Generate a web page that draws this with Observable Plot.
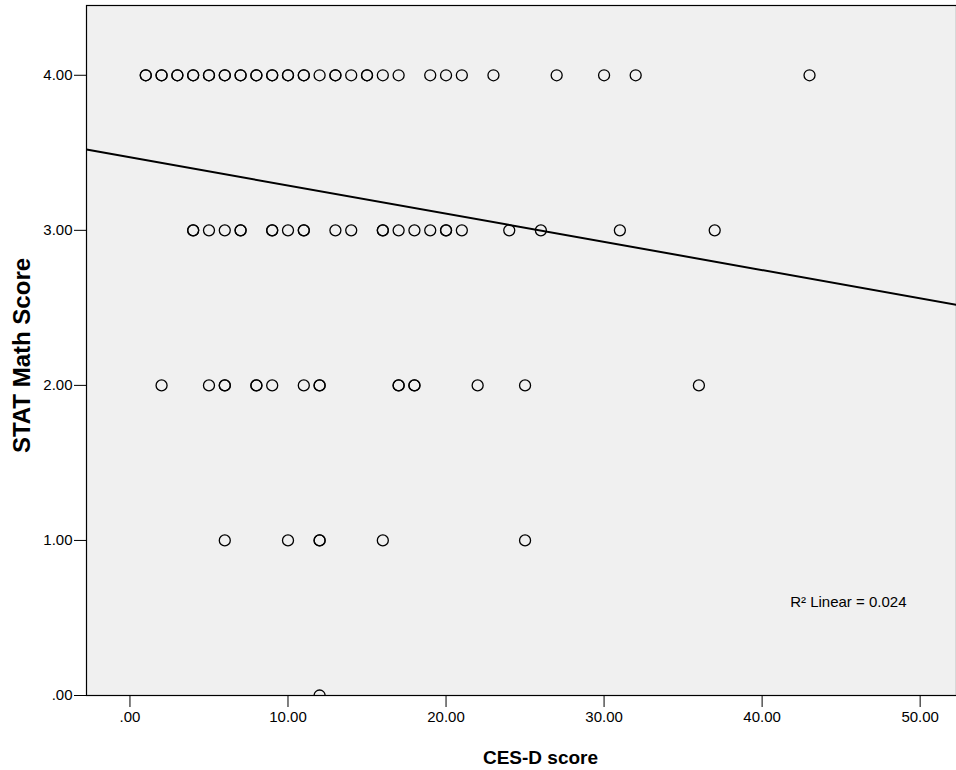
<!DOCTYPE html>
<html>
<head>
<meta charset="utf-8">
<script src="https://cdn.jsdelivr.net/npm/d3@7"></script>
<script src="https://cdn.jsdelivr.net/npm/@observablehq/plot@0.6"></script>
<style>
  html, body { margin: 0; padding: 0; background: #ffffff; }
</style>
</head>
<body>
<div id="chart"></div>
<script>
// CES-D scores observed at each STAT Math Score level (repeats = overlapping cases)
const stat4 = [1,1,2,2,3,3,4,4,5,5,6,6,7,7,8,8,9,9,10,10,11,11,12,13,13,14,15,15,16,17,19,20,21,23,27,30,32,43];
const stat3 = [4,4,5,6,7,7,9,9,10,11,11,13,14,16,16,17,18,19,20,20,21,24,26,31,37];
const stat2 = [2,5,6,6,8,8,9,11,12,12,17,17,18,18,22,25,36];
const stat1 = [6,10,12,12,16,25];
const stat0 = [12];

const xTicks = [0, 10, 20, 30, 40, 50];
const yTicks = [0, 1, 2, 3, 4];
const xLabel = "CES-D score";
const yLabel = "STAT Math Score";
const r2Label = "R\u00B2 Linear = 0.024";

// fitted linear regression (from the reference)
const fitIntercept = 3.471;
const fitSlope = -0.01818;

const xDomain = [-2.75, 52.3];
const yDomain = [0, 4.45];

const rows = [[4, stat4], [3, stat3], [2, stat2], [1, stat1], [0, stat0]];
const points = rows.flatMap(([s, xs]) => xs.map(x => ({x, y: s})));
const fit = xDomain.map(x => ({x, y: fitIntercept + fitSlope * x}));

const fmt = d => d === 0 ? ".00" : d.toFixed(2);

const chart = Plot.plot({
  width: 956,
  height: 770,
  marginLeft: 86,
  marginTop: 5,
  marginRight: 0,
  marginBottom: 75,
  style: {fontFamily: "'Liberation Sans', Arial, sans-serif", fontSize: "15px", background: "#ffffff", color: "#000000"},
  x: {domain: xDomain},
  y: {domain: yDomain},
  marks: [
    Plot.frame({fill: "#f0f0f0", stroke: null}),
    Plot.axisX({ticks: xTicks, tickFormat: fmt, tickSize: 12, tickPadding: 4, label: null, stroke: "#000", fontSize: 15}),
    Plot.axisY({ticks: yTicks, tickFormat: fmt, tickSize: 12, tickPadding: 2, label: null, stroke: "#000", fontSize: 15}),
    Plot.frame({stroke: "#000", strokeWidth: 1.2}),
    Plot.line(fit, {x: "x", y: "y", stroke: "#000", strokeWidth: 2, clip: true}),
    Plot.dot(points, {x: "x", y: "y", r: 5.5, stroke: "#000", strokeWidth: 1.3, fill: "none", clip: true}),
    Plot.text([r2Label], {text: d => d, frameAnchor: "bottom-right", dx: -50, dy: -93, textAnchor: "end", lineAnchor: "middle", fontSize: 15}),
    Plot.text([xLabel], {text: d => d, frameAnchor: "bottom", dx: 19, dy: 62, lineAnchor: "middle", fontWeight: "bold", fontSize: 19}),
    Plot.text([yLabel], {text: d => d, frameAnchor: "left", dx: -64, dy: 5, rotate: -90, textAnchor: "middle", lineAnchor: "middle", fontWeight: "bold", fontSize: 24})
  ]
});
document.getElementById("chart").appendChild(chart);
</script>
</body>
</html>
